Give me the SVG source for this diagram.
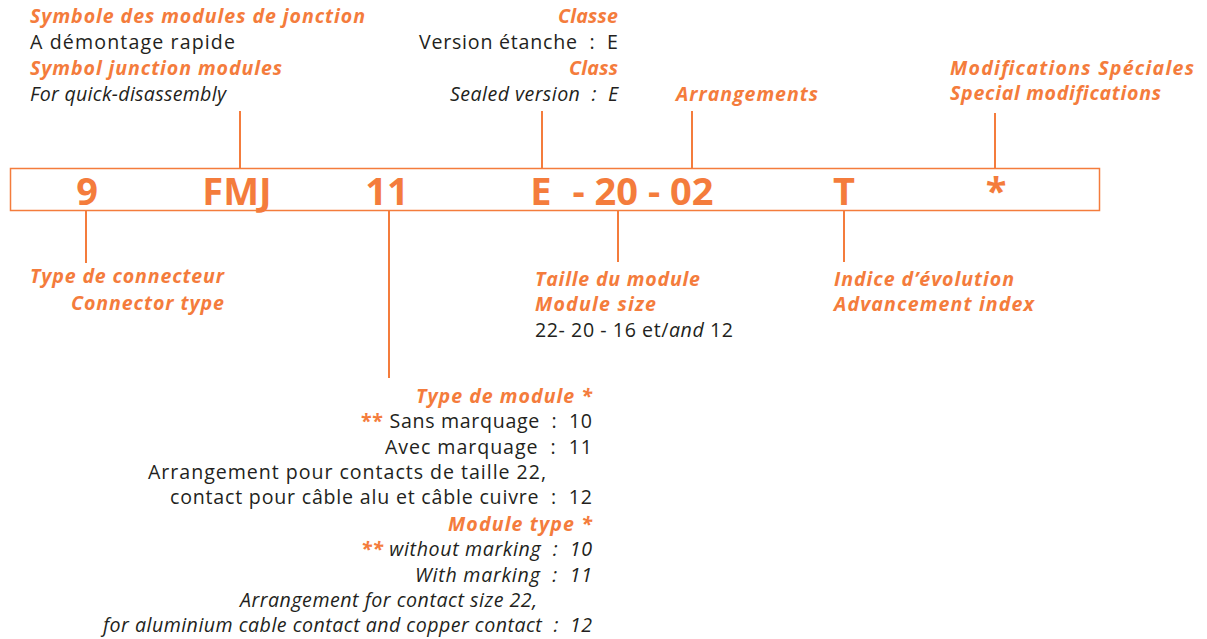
<svg xmlns="http://www.w3.org/2000/svg" width="1207" height="639" viewBox="0 0 1207 639">
<style>
text{font-family:"Open Sans","Noto Sans","DejaVu Sans",sans-serif;font-size:19.6px;fill:#231F20}
.o{fill:#F47C3C;font-weight:bold;font-style:italic}
.i{font-style:italic}
.e{text-anchor:end}
.code{fill:#F47C3C;font-weight:bold;font-size:38px;text-anchor:middle}
.ln{stroke:#F47C3C;stroke-width:2;fill:none}
.st{fill:#F47C3C;font-weight:bold}
</style>
<rect width="1207" height="639" fill="#fff"/>
<g id="connectors">
<line class="ln" x1="240" y1="111" x2="240" y2="168"/>
<line class="ln" x1="542" y1="111" x2="542" y2="168"/>
<line class="ln" x1="692" y1="111" x2="692" y2="168"/>
<line class="ln" x1="995" y1="113" x2="995" y2="168"/>
<line class="ln" x1="86" y1="211" x2="86" y2="263"/>
<line class="ln" x1="389" y1="211" x2="389" y2="378"/>
<line class="ln" x1="618" y1="211" x2="618" y2="262"/>
<line class="ln" x1="844" y1="211" x2="844" y2="262"/>
</g>
<g id="code-box">
<rect x="10.5" y="168.5" width="1089" height="42" fill="none" stroke="#F47C3C" stroke-width="1.5"/>
<text class="code" x="87" y="205">9</text>
<text class="code" x="237" y="205">FMJ</text>
<text class="code" x="387" y="205">11</text>
<text class="code" x="541" y="205">E</text>
<text class="code" x="643" y="205" xml:space="preserve">- 20 - 02</text>
<text class="code" x="844" y="205">T</text>
<text class="code" x="996" y="205">*</text>
</g>
<g id="symbol">
<text class="o" x="30" y="23" textLength="335">Symbole des modules de jonction</text>
<text x="30" y="49" textLength="205">A démontage rapide</text>
<text class="o" x="30" y="75" textLength="252">Symbol junction modules</text>
<text class="i" x="30" y="101" textLength="196">For quick-disassembly</text>
</g>
<g id="classe">
<text class="o e" x="618" y="23" textLength="60">Classe</text>
<text class="e" x="618" y="49" xml:space="preserve" textLength="199">Version étanche  :  E</text>
<text class="o e" x="618" y="75" textLength="49">Class</text>
<text class="i e" x="618" y="101" xml:space="preserve" textLength="168">Sealed version  :  E</text>
</g>
<g id="arrangements">
<text class="o" x="676" y="101" textLength="142">Arrangements</text>
</g>
<g id="modifications">
<text class="o" x="950" y="75" textLength="244">Modifications Spéciales</text>
<text class="o" x="950" y="100" textLength="211">Special modifications</text>
</g>
<g id="connector-type">
<text class="o e" x="224" y="283" textLength="194">Type de connecteur</text>
<text class="o e" x="224" y="310" textLength="153">Connector type</text>
</g>
<g id="module-size">
<text class="o" x="535" y="286" textLength="165">Taille du module</text>
<text class="o" x="535" y="311" textLength="121">Module size</text>
<text x="535" y="337" textLength="198">22- 20 - 16 et/<tspan class="i">and</tspan> 12</text>
</g>
<g id="advancement">
<text class="o" x="834" y="286" textLength="180">Indice d’évolution</text>
<text class="o" x="834" y="311" textLength="200">Advancement index</text>
</g>
<g id="module-type">
<text class="o e" x="592" y="403" textLength="176">Type de module *</text>
<text class="e" x="592" y="428" xml:space="preserve" textLength="231"><tspan class="st">**</tspan> Sans marquage  :  10</text>
<text class="e" x="592" y="454" xml:space="preserve" textLength="207">Avec marquage  :  11</text>
<text class="e" x="546" y="479" textLength="398">Arrangement pour contacts de taille 22,</text>
<text class="e" x="592" y="504" xml:space="preserve" textLength="422">contact pour câble alu et câble cuivre  :  12</text>
<text class="o e" x="592" y="531" textLength="144">Module type *</text>
<text class="i e" x="592" y="556" xml:space="preserve" textLength="231"><tspan class="st">**</tspan> without marking  :  10</text>
<text class="i e" x="592" y="582" xml:space="preserve" textLength="177">With marking  :  11</text>
<text class="i e" x="537" y="607" textLength="297">Arrangement for contact size 22,</text>
<text class="i e" x="592" y="632" xml:space="preserve" textLength="489">for aluminium cable contact and copper contact  :  12</text>
</g>
</svg>
